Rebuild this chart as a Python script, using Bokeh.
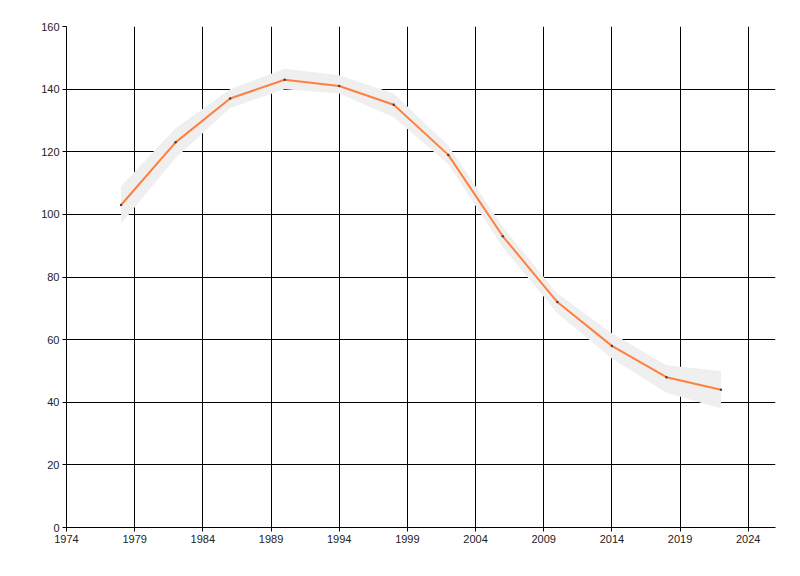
from bokeh.plotting import figure
from bokeh.models import FixedTicker, Range1d
from bokeh.embed import file_html
from bokeh.resources import INLINE

years = [1978, 1982, 1986, 1990, 1994, 1998, 2002, 2006, 2010, 2014, 2018, 2022]
values = [103, 123, 137, 143, 141, 135, 119, 93, 72, 58, 48, 44]
band_upper = [109, 127.5, 140, 146.5, 144.4, 138.6, 122, 96, 74.7, 62, 51.8, 50]
band_lower = [97, 118, 134, 140, 138.6, 131, 116, 89.5, 68.4, 54, 43, 38]

x_ticks = [1974, 1979, 1984, 1989, 1994, 1999, 2004, 2009, 2014, 2019, 2024]
y_ticks = [0, 20, 40, 60, 80, 100, 120, 140, 160]

p = figure(width=784, height=556, output_backend="svg", toolbar_location=None,
           x_range=Range1d(1974, 2026), y_range=Range1d(0, 160),
           min_border_left=66, min_border_top=26, min_border_right=9, min_border_bottom=29)
p.outline_line_color = None

p.varea(x=years, y1=band_lower, y2=band_upper, fill_color="#efefef")
p.line(x=years, y=values, line_color="#ff7f3f", line_width=2)
p.scatter(x=years, y=values, size=2.5, fill_color="#444444", line_color=None)

p.xaxis.ticker = FixedTicker(ticks=x_ticks)
p.yaxis.ticker = FixedTicker(ticks=y_ticks)
for ax in (p.xaxis, p.yaxis):
    ax.axis_line_color = "black"
    ax.major_tick_line_color = "black"
    ax.major_tick_out = 4
    ax.major_tick_in = 0
    ax.minor_tick_line_color = None
    ax.major_label_text_font = "Liberation Sans"
    ax.major_label_text_font_size = "11px"
    ax.major_label_text_color = "#222222"
    ax.major_label_standoff = 3

p.xgrid.ticker = FixedTicker(ticks=x_ticks)
p.ygrid.ticker = FixedTicker(ticks=y_ticks)
p.grid.grid_line_color = "black"
p.grid.grid_line_alpha = 1.0
p.grid.grid_line_width = 1

open("out.html", "w").write(file_html(p, INLINE))
